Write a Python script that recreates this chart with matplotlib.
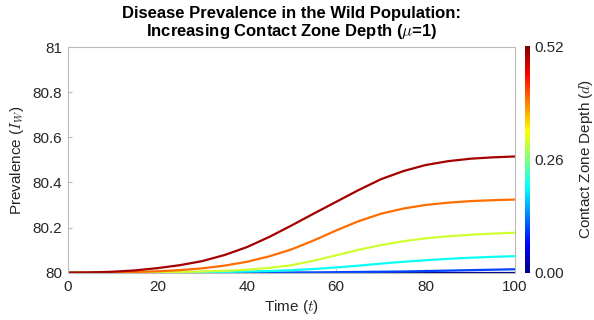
import numpy as np
import matplotlib
matplotlib.use("Agg")
import matplotlib.pyplot as plt
from matplotlib import cm, colors

plt.rcParams['font.family'] = ['Liberation Sans', 'DejaVu Sans']
plt.rcParams['mathtext.fontset'] = 'cm'

# time grid and wild-population prevalence for each contact zone depth
time = [0, 5, 10, 15, 20, 25, 30, 35, 40, 45, 50, 55, 60, 65, 70, 75, 80, 85, 90, 95, 100]
depths = [0.0, 0.1, 0.2, 0.3, 0.4, 0.5]

prev_d0 = [80.0] * 21
prev_d1 = [80.0, 80.0, 80.0, 80.0, 80.0, 80.0, 80.0, 80.0, 80.0, 80.0, 80.0005, 80.001,
           80.002, 80.003, 80.004, 80.005, 80.007, 80.009, 80.011, 80.013, 80.015]
prev_d2 = [80.0, 80.0, 80.0, 80.0, 80.0005, 80.001, 80.002, 80.003, 80.005, 80.007, 80.011,
           80.016, 80.023, 80.031, 80.040, 80.048, 80.055, 80.061, 80.066, 80.070, 80.073]
prev_d3 = [80.0, 80.0, 80.0005, 80.001, 80.002, 80.003, 80.005, 80.008, 80.013, 80.021, 80.033,
           80.053, 80.077, 80.101, 80.122, 80.139, 80.152, 80.161, 80.168, 80.173, 80.177]
prev_d4 = [80.0, 80.0005, 80.0015, 80.003, 80.006, 80.011, 80.019, 80.031, 80.048, 80.072, 80.103,
           80.143, 80.187, 80.228, 80.261, 80.284, 80.300, 80.310, 80.317, 80.321, 80.324]
prev_d5 = [80.0, 80.001, 80.004, 80.010, 80.020, 80.033, 80.051, 80.078, 80.113, 80.158, 80.209,
           80.262, 80.314, 80.366, 80.414, 80.450, 80.477, 80.494, 80.505, 80.511, 80.515]
prevalence = [prev_d0, prev_d1, prev_d2, prev_d3, prev_d4, prev_d5]

x_ticks = [0, 20, 40, 60, 80, 100]
y_ticks = [80, 80.2, 80.4, 80.6, 80.8, 81]
cbar_ticks = [0.0, 0.26, 0.52]

# classic jet (blue -> cyan -> yellow -> red -> dark red)
jet_segments = {
    'red':   [(0.0, 0.0, 0.0), (0.375, 0.0, 0.0), (0.625, 1.0, 1.0), (0.875, 1.0, 1.0), (1.0, 0.5, 0.5)],
    'green': [(0.0, 0.0, 0.0), (0.125, 0.0, 0.0), (0.375, 1.0, 1.0), (0.625, 1.0, 1.0), (0.875, 0.0, 0.0),
              (1.0, 0.0, 0.0)],
    'blue':  [(0.0, 0.5, 0.5), (0.125, 1.0, 1.0), (0.375, 1.0, 1.0), (0.625, 0.0, 0.0), (1.0, 0.0, 0.0)],
}
cmap = colors.LinearSegmentedColormap('jet_classic', jet_segments, N=256)
norm = colors.Normalize(vmin=0.0, vmax=0.52)

fig = plt.figure(figsize=(5.94, 3.2), dpi=100)
ax = fig.add_axes([0.1145, 0.148, 0.7525, 0.705])

for d, series in zip(depths, prevalence):
    ax.plot(time, series, color=cmap(norm(d)), lw=1.6, solid_capstyle='butt')

ax.set_xlim(0, 100)
ax.set_ylim(80, 81)
ax.set_xticks(x_ticks)
ax.set_yticks(y_ticks)
ax.set_yticklabels(['80', '80.2', '80.4', '80.6', '80.8', '81'])
ax.tick_params(direction='in', length=3, color='#bbbbbb', labelsize=11, labelcolor='#262626')
ax.tick_params(axis='x', pad=5)
ax.tick_params(axis='y', pad=4)
for side in ax.spines.values():
    side.set_color('#bbbbbb')
    side.set_linewidth(0.8)

ax.set_xlabel('Time ($t$)', fontsize=11, color='#262626', labelpad=3)
ax.set_ylabel('Prevalence ($I_W$)', fontsize=11, color='#262626', labelpad=5)
ax.set_title('Disease Prevalence in the Wild Population:\nIncreasing Contact Zone Depth ($\\mu$=1)',
             fontsize=12, fontweight='bold', linespacing=1.1, pad=8)

# colour scale for contact zone depth
cax = fig.add_axes([0.884, 0.148, 0.009, 0.708])
sm = cm.ScalarMappable(norm=norm, cmap=cmap)
cbar = fig.colorbar(sm, cax=cax, ticks=cbar_ticks)
cbar.ax.set_yticklabels(['%.2f' % v for v in cbar_ticks])
cbar.outline.set_visible(False)
cbar.ax.tick_params(length=0, labelsize=11, labelcolor='#262626', pad=3)
cbar.set_label('Contact Zone Depth ($d$)', fontsize=11, color='#262626', labelpad=9)

fig.savefig('out.png', dpi=100)
